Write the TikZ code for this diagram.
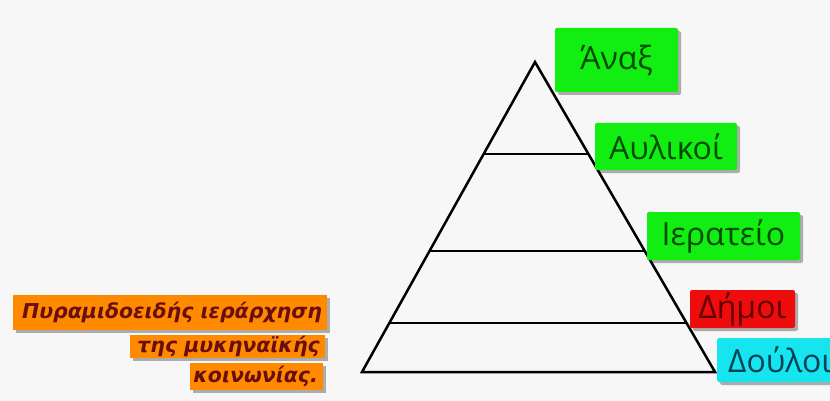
\documentclass[tikz,border=0pt]{standalone}
\usepackage{fontspec}
\setmainfont{Open Sans}
\newfontfamily\notefont{DejaVu Sans}
\usetikzlibrary{positioning, calc, shadows}

\definecolor{paper}{RGB}{247,247,247}
\definecolor{rankgreen}{RGB}{18,238,18}
\definecolor{rankred}{RGB}{238,12,12}
\definecolor{rankcyan}{RGB}{22,228,238}
\definecolor{greentext}{RGB}{0,75,0}
\definecolor{redtext}{RGB}{100,0,0}
\definecolor{cyantext}{RGB}{0,65,85}
\definecolor{noteorange}{RGB}{255,138,0}
\definecolor{notetext}{RGB}{105,14,14}

\begin{document}
\begin{tikzpicture}[
    x=1pt, y=-1pt,
    rank/.style={rectangle, rounded corners=2pt, inner sep=0pt,
        font=\fontsize{32}{34}\selectfont,
        drop shadow={shadow xshift=3pt, shadow yshift=-3pt, fill=black, opacity=.3}},
    note/.style={rectangle, fill=noteorange, inner xsep=5pt, inner ysep=0pt,
        anchor=east, text=notetext,
        font=\notefont\bfseries\itshape\fontsize{20.5}{22}\selectfont,
        drop shadow={shadow xshift=3pt, shadow yshift=-3pt, fill=black, opacity=.3}}
]

\clip (0,0) rectangle (830,401);
\fill[paper] (0,0) rectangle (830,401);

% pyramid
\coordinate (apex) at (535,62);
\coordinate (baseL) at (362,372);
\coordinate (baseR) at (715,372);
\draw[line width=2.5pt, line join=miter] (baseL) -- (apex) -- (baseR) -- cycle;
\foreach \t in {0.297, 0.61, 0.842}
    \draw[line width=1.6pt] ($(apex)!\t!(baseL)$) -- ($(apex)!\t!(baseR)$);

% ranks
\node[rank, fill=rankgreen, text=greentext, minimum width=123pt, minimum height=64pt] (anax)
    at (616.5,60) {Άναξ};
\node[rank, fill=rankgreen, text=greentext, minimum width=142pt, minimum height=47pt] (aulikoi)
    at (666,146.5) {Αυλικοί};
\node[rank, fill=rankgreen, text=greentext, minimum width=153pt, minimum height=48pt] (ierateio)
    at (723.5,236) {Ιερατείο};
\node[rank, fill=rankred, text=redtext, minimum width=105pt, minimum height=38pt] (dimoi)
    at (742.5,309) {Δήμοι};
\node[rank, fill=rankcyan, text=cyantext, anchor=west, inner xsep=11pt,
    text width=108pt, align=left, minimum height=44pt] (douloi)
    at (717,360) {Δούλοι};

% caption
\node[note, minimum height=35pt] (caption1) at (327,312.5)
    {\makebox[304pt][r]{Πυραμιδοειδής ιεράρχηση}};
\node[note, minimum height=23pt] (caption2) at (325,346.5)
    {\makebox[185pt][r]{της μυκηναϊκής}};
\node[note, minimum height=27pt] (caption3) at (323,376.5)
    {\makebox[123pt][r]{κοινωνίας.}};

\end{tikzpicture}
\end{document}
